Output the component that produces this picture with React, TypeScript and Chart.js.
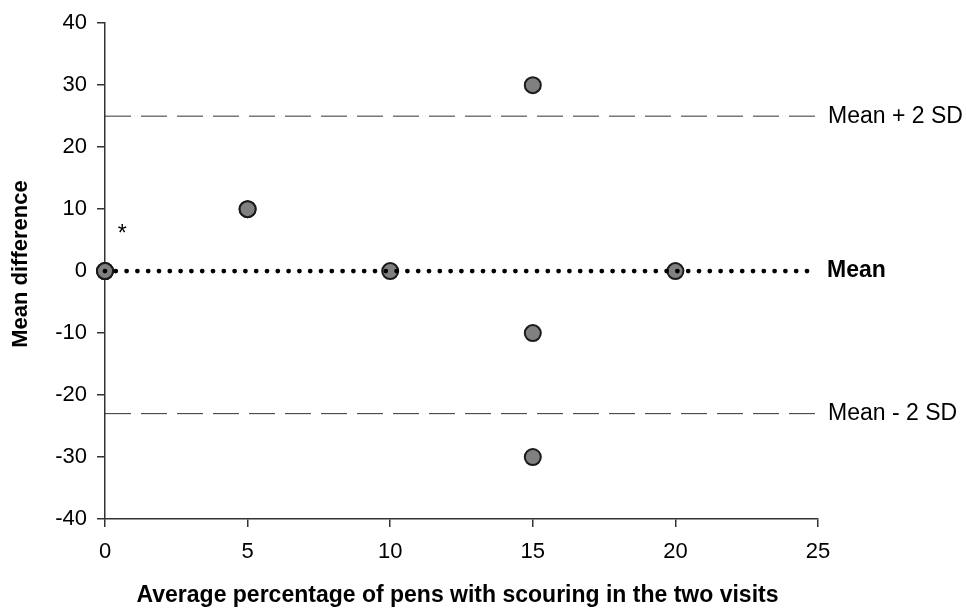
import React, { useEffect, useRef } from "react";
import { Chart, registerables } from "chart.js";

Chart.register(...registerables);

const pointX = [0, 0, 0, 5, 5, 10, 15, 15, 15, 20];
const pointY = [0, 0, 0, 10, 10, 0, 30, -10, -30, 0];
const meanValue = 0;
const upperLimit = 25;
const lowerLimit = -23;
const xRange = [0, 25];
const yRange = [-40, 40];
const refLabels = ["Mean + 2 SD", "Mean", "Mean - 2 SD"];
const xTitle = "Average percentage of pens with scouring in the two visits";
const yTitle = "Mean difference";
const noteMark = { x: 0.6, y: 6.6, text: "*" };

const FONT = "'Liberation Sans', Arial, Helvetica, sans-serif";

export default function App() {
  const ref = useRef<HTMLCanvasElement | null>(null);

  useEffect(() => {
    document.body.style.margin = "0";
    const canvas = ref.current!;
    const labelPlugin = {
      id: "refLabels",
      afterDraw(chart: any) {
        const { ctx, scales, chartArea } = chart;
        const xs = scales.x;
        const ys = scales.y;
        ctx.save();
        ctx.fillStyle = "#000";
        ctx.textBaseline = "middle";
        ctx.textAlign = "left";
        const lx = chartArea.right + 10;
        ctx.font = `23px ${FONT}`;
        ctx.fillText(refLabels[0], lx, ys.getPixelForValue(upperLimit));
        ctx.fillText(refLabels[2], lx, ys.getPixelForValue(lowerLimit));
        ctx.font = `bold 23px ${FONT}`;
        ctx.fillText(refLabels[1], lx - 1, ys.getPixelForValue(meanValue));
        // axis titles
        ctx.textAlign = "center";
        ctx.font = `bold 23px ${FONT}`;
        ctx.fillText(xTitle, (chartArea.left + chartArea.right) / 2 - 4, chartArea.bottom + 77);
        ctx.save();
        ctx.font = `bold 22px ${FONT}`;
        ctx.translate(21, (chartArea.top + chartArea.bottom) / 2 - 7);
        ctx.rotate(-Math.PI / 2);
        ctx.fillText(yTitle, 0, 0);
        ctx.restore();
        // note mark
        ctx.font = `23px ${FONT}`;
        ctx.fillText(noteMark.text, xs.getPixelForValue(noteMark.x), ys.getPixelForValue(noteMark.y) + 4);
        ctx.restore();
      },
    };

    const chart = new Chart(canvas, {
      type: "scatter",
      data: {
        datasets: [
          {
            type: "line",
            data: [
              { x: xRange[0], y: meanValue },
              { x: 24.8, y: meanValue },
            ],
            borderColor: "#000",
            borderWidth: 4.8,
            borderDash: [0, 10.8],
            borderCapStyle: "round",
            pointRadius: 0,
            order: 0,
            clip: false as any,
          },
          {
            type: "scatter",
            data: pointX.map((x, i) => ({ x, y: pointY[i] })),
            backgroundColor: "#808080",
            borderColor: "#1a1a1a",
            borderWidth: 2,
            pointRadius: 8,
            order: 1,
            clip: false as any,
          },
          {
            type: "line",
            data: [
              { x: xRange[0], y: upperLimit },
              { x: 25.1, y: upperLimit },
            ],
            borderColor: "#333",
            borderWidth: 1,
            borderDash: [26, 10],
            pointRadius: 0,
            order: 2,
            clip: false as any,
          },
          {
            type: "line",
            data: [
              { x: xRange[0], y: lowerLimit },
              { x: 25.1, y: lowerLimit },
            ],
            borderColor: "#333",
            borderWidth: 1,
            borderDash: [26, 10],
            pointRadius: 0,
            order: 2,
            clip: false as any,
          },
        ] as any,
      },
      options: {
        animation: false,
        responsive: false,
        maintainAspectRatio: false,
        layout: { padding: { top: 22, right: 148, bottom: 0, left: 0 } },
        plugins: {
          legend: { display: false },
          tooltip: { enabled: false },
        },
        scales: {
          x: {
            type: "linear",
            min: xRange[0],
            max: xRange[1],
            afterFit(scale: any) {
              scale.height = 92;
            },
            ticks: {
              stepSize: 5,
              color: "#000",
              padding: 12,
              font: { family: FONT, size: 22 },
            },
            grid: {
              display: true,
              drawOnChartArea: false,
              drawTicks: true,
              tickLength: 8,
              color: "#333",
              lineWidth: 1.5,
            },
            border: { display: true, color: "#333", width: 1.5 },
            title: { display: false },
          },
          y: {
            type: "linear",
            min: yRange[0],
            max: yRange[1],
            afterFit(scale: any) {
              scale.width = 105;
            },
            ticks: {
              stepSize: 10,
              color: "#000",
              padding: 10,
              font: { family: FONT, size: 22 },
            },
            grid: {
              display: true,
              drawOnChartArea: false,
              drawTicks: true,
              tickLength: 8,
              color: "#333",
              lineWidth: 1.5,
            },
            border: { display: true, color: "#333", width: 1.5 },
            title: { display: false },
          },
        },
      } as any,
      plugins: [labelPlugin],
    });
    return () => chart.destroy();
  }, []);

  return (
    <div style={{ position: "absolute", left: 0, top: 0, width: 966, height: 611, background: "#fff" }}>
      <canvas ref={ref} width={966} height={611} style={{ width: 966, height: 611 }} />
    </div>
  );
}
